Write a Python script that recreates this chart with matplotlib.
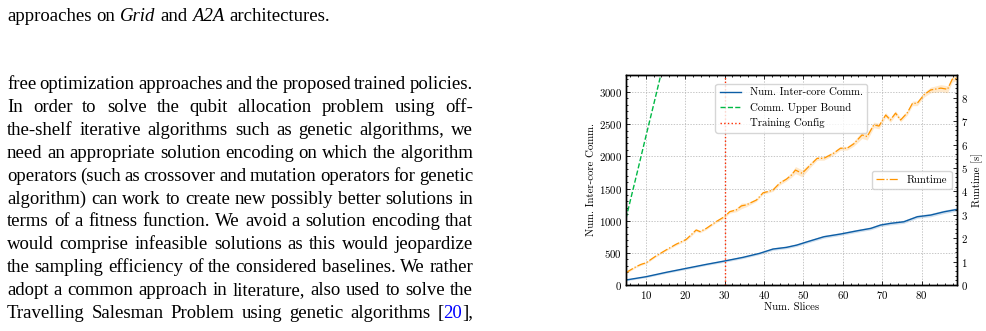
import numpy as np
import matplotlib.pyplot as plt
from matplotlib.transforms import IdentityTransform
from matplotlib.ticker import AutoMinorLocator, MultipleLocator

# ---- data ----
# runtime [s] (right axis), with spread
rt_x = [5, 7.5, 8.8, 10.1, 12.6, 15.2, 17.7, 20.3, 21.5, 22.8, 23.8, 25.4, 27.9, 30,
        31.3, 33, 34.3, 35.5, 38.1, 39.8, 41, 42.3, 44, 45.7, 47, 48, 49.7, 51.8,
        53.5, 55.2, 57.7, 59.4, 61.1, 62.8, 64.9, 66.2, 67.9, 69.2, 70.9, 72.1,
        73.4, 74.7, 76.4, 77.7, 78.9, 80.6, 82.3, 84.9, 86.6, 87.8, 89]
rt_y = [0.53, 0.78, 0.88, 0.95, 1.24, 1.50, 1.74, 1.95, 2.14, 2.35, 2.28, 2.42, 2.71, 2.92,
        3.13, 3.21, 3.38, 3.42, 3.63, 3.94, 3.99, 4.06, 4.35, 4.52, 4.70, 4.91, 4.77, 5.13,
        5.41, 5.41, 5.63, 5.84, 5.84, 6.03, 6.41, 6.34, 6.84, 6.79, 7.26, 7.05,
        7.34, 7.05, 7.36, 7.76, 7.76, 8.12, 8.33, 8.41, 8.36, 8.79, 8.83]
rt_err = [0.04, 0.04, 0.04, 0.04, 0.04, 0.04, 0.05, 0.05, 0.06, 0.06, 0.05, 0.05, 0.05, 0.06,
          0.06, 0.08, 0.12, 0.08, 0.06, 0.06, 0.06, 0.06, 0.08, 0.08, 0.10, 0.15, 0.15, 0.10,
          0.08, 0.08, 0.08, 0.08, 0.08, 0.10, 0.15, 0.15, 0.12, 0.12, 0.10, 0.10,
          0.10, 0.08, 0.10, 0.10, 0.10, 0.10, 0.12, 0.15, 0.15, 0.12, 0.10]

# number of inter-core communications (left axis), with spread
comm_x = [5, 10.1, 15.2, 20.3, 25.4, 30, 34.7, 38.9, 42.3, 45.7, 48.3, 51, 55.2, 59.4,
          63.7, 67.1, 69.6, 72.1, 75.5, 78.9, 82.3, 85.7, 89]
comm_y = [78, 129, 197, 259, 321, 373, 430, 492, 559, 585, 620, 672, 750, 792,
          843, 880, 932, 958, 983, 1061, 1087, 1138, 1175]
comm_err = [12, 14, 15, 16, 16, 18, 18, 18, 20, 20, 20, 20, 22, 22,
            22, 22, 24, 24, 24, 24, 26, 26, 26]

# communication upper bound (left axis)
ub_x = [5, 6, 7, 8, 9, 10, 11, 12, 13, 14, 15]
ub_y = [1035, 1290, 1540, 1790, 2045, 2300, 2550, 2800, 3055, 3310, 3560]

train_slices = 30

# ---- page text ----
caption = [("approaches", "n"), ("on", "n"), ("Grid", "i"), ("and", "n"),
           ("A2A", "i"), ("architectures.", "n")]
body = [
    "free optimization approaches and the proposed trained policies.",
    "In order to solve the qubit allocation problem using off-",
    "the-shelf iterative algorithms such as genetic algorithms, we",
    "need an appropriate solution encoding on which the algorithm",
    "operators (such as crossover and mutation operators for genetic",
    "algorithm) can work to create new possibly better solutions in",
    "terms of a fitness function. We avoid a solution encoding that",
    "would comprise infeasible solutions as this would jeopardize",
    "the sampling efficiency of the considered baselines. We rather",
    "adopt a common approach in literature, also used to solve the",
    "Travelling Salesman Problem using genetic algorithms [20],",
]

W, H = 987, 331
fig = plt.figure(figsize=(W / 100, H / 100), dpi=100)
renderer = fig.canvas.get_renderer()
serif = "Liberation Serif"


def make(s, fs, style="normal", color="black"):
    return fig.text(0, 0, s, fontsize=fs, family=serif, style=style, color=color,
                    transform=IdentityTransform(), va="baseline", ha="left")


def width(t):
    return t.get_window_extent(renderer).width


# fit the text size to the natural caption width in the picture
probe = make("approaches on Grid and A2A architectures.", 13)
fs = 13 * 322 / width(probe)
probe.remove()
sp = make("a a", fs)
sq = make("aa", fs)
space_w = width(sp) - width(sq)
sp.remove()
sq.remove()

# caption line
x = 7
for word, st in caption:
    t = make(word, fs, style="italic" if st == "i" else "normal")
    t.set_position((x, H - 21))
    x += width(t) + space_w

# justified body lines
x0, x1 = 7, 473
for i, line in enumerate(body):
    base = H - (89 + 22.9 * i)
    words = line.split(" ")
    groups = []
    for w in words:
        if w == "[20],":
            segs = [make("[", fs), make("20", fs, color="#0000ff"), make("],", fs)]
        else:
            segs = [make(w, fs)]
        groups.append(segs)
    widths = [sum(width(s) for s in g) for g in groups]
    gap = (x1 - x0 - sum(widths)) / (len(groups) - 1)
    x = x0
    for g, gw in zip(groups, widths):
        xx = x
        for s in g:
            s.set_position((xx, base))
            xx += width(s)
        x += gw + gap

# ---- the chart ----
plt.rcParams["font.family"] = "cmr10"
plt.rcParams["axes.formatter.use_mathtext"] = True
tfs = 7.8

blue, green, orange, red = "#0C5DA5", "#00B945", "#FF9500", "#FF2C00"

ax = fig.add_axes([626 / W, 46 / H, 331 / W, 210 / H])
ax2 = ax.twinx()

ax.plot(comm_x, comm_y, color=blue, lw=1.0, label="Num. Inter-core Comm.")
ax.fill_between(comm_x, np.array(comm_y) - np.array(comm_err),
                np.array(comm_y) + np.array(comm_err), color=blue, alpha=0.2, lw=0)
ax.plot(ub_x, ub_y, color=green, lw=1.0, ls="--", label="Comm. Upper Bound")
ax.axvline(train_slices, color=red, lw=1.0, ls=":", label="Training Config")

ax2.plot(rt_x, rt_y, color=orange, lw=0.9, ls="-.", label="Runtime")
ax2.fill_between(rt_x, np.array(rt_y) - np.array(rt_err),
                 np.array(rt_y) + np.array(rt_err), color=orange, alpha=0.2, lw=0)

ax.set_xlim(5, 89)
ax.set_ylim(0, 3265)
ax2.set_ylim(0, 8.97)
ax.xaxis.set_major_locator(MultipleLocator(10))
ax.yaxis.set_major_locator(MultipleLocator(500))
ax2.yaxis.set_major_locator(MultipleLocator(1))
for a in (ax, ax2):
    a.xaxis.set_minor_locator(AutoMinorLocator())
    a.yaxis.set_minor_locator(AutoMinorLocator())
    for s in a.spines.values():
        s.set_linewidth(1.0)
ax.tick_params(which="both", direction="in", top=True, right=False, labelsize=tfs, width=0.6)
ax.tick_params(which="major", length=3, pad=3)
ax.tick_params(which="minor", length=1.5)
ax2.tick_params(which="both", direction="in", labelsize=tfs, width=0.6)
ax2.tick_params(which="major", length=3, pad=3)
ax2.tick_params(which="minor", length=1.5)

ax.grid(True, color="#b0b0b0", ls="--", lw=0.5, dashes=(2, 2))

ax.set_xlabel("Num. Slices", fontsize=tfs, labelpad=1)
ax.set_ylabel("Num. Inter-core Comm.", fontsize=tfs, labelpad=2)
ax2.set_ylabel("Runtime [s]", fontsize=tfs, labelpad=2)

leg2 = ax2.legend(loc="center right", fontsize=tfs)
ax2.add_artist(leg2)
ax2.legend(*ax.get_legend_handles_labels(), loc="upper center", fontsize=tfs,
           bbox_to_anchor=(0.5, 0.985))

fig.savefig("out.png", dpi=100)
